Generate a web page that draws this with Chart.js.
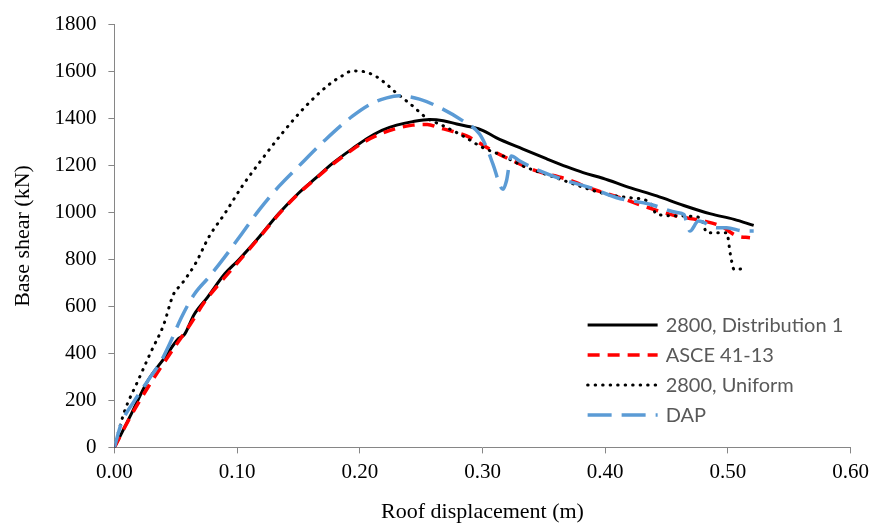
<!DOCTYPE html>
<html>
<head>
<meta charset="utf-8">
<script src="https://cdn.jsdelivr.net/npm/chart.js@4/dist/chart.umd.min.js"></script>
<style>
  html, body { margin: 0; padding: 0; background: #fff; }
  #wrap { width: 875px; height: 525px; }
</style>
</head>
<body>
<div id="wrap"><canvas id="chart" width="875" height="525"></canvas></div>
<script>
// Pushover curves: roof displacement (m) vs base shear (kN)
const dist1X = [0, 0.014, 0.027, 0.041, 0.052, 0.057, 0.065, 0.076, 0.090, 0.101, 0.118, 0.134, 0.150, 0.164, 0.178, 0.194, 0.205, 0.218, 0.230, 0.243, 0.257, 0.268, 0.279, 0.290, 0.300, 0.311, 0.333, 0.352, 0.369, 0.382, 0.398, 0.420, 0.442, 0.464, 0.486, 0.505, 0.521];
const dist1Y = [0, 145, 282, 382, 462, 480, 566, 640, 739, 797, 896, 996, 1082, 1146, 1210, 1272, 1312, 1350, 1372, 1387, 1396, 1391, 1377, 1365, 1350, 1319, 1270, 1229, 1194, 1170, 1146, 1106, 1071, 1030, 994, 971, 945];

const asceX = [0, 0.011, 0.027, 0.049, 0.060, 0.074, 0.085, 0.101, 0.118, 0.134, 0.150, 0.164, 0.178, 0.194, 0.205, 0.218, 0.230, 0.243, 0.255, 0.265, 0.276, 0.287, 0.3085, 0.3276, 0.344, 0.3685, 0.390, 0.412, 0.431, 0.458, 0.480, 0.494, 0.5075, 0.518];
const asceY = [0, 111, 253, 427, 509, 623, 694, 790, 893, 993, 1080, 1144, 1206, 1268, 1305, 1337, 1358, 1372, 1375, 1360, 1345, 1326, 1262, 1213, 1177, 1142, 1099, 1063, 1028, 985, 964, 943, 900, 893];

const uniformX = [0, 0.008, 0.019, 0.030, 0.040, 0.048, 0.055, 0.066, 0.077, 0.090, 0.104, 0.120, 0.137, 0.156, 0.175, 0.185, 0.194, 0.203, 0.213, 0.222, 0.2295, 0.243, 0.254, 0.2676, 0.284, 0.300, 0.3167, 0.333, 0.3576, 0.401, 0.420, 0.4366, 0.442, 0.464, 0.4775, 0.483, 0.499, 0.502, 0.505, 0.516];
const uniformY = [0, 150, 281, 409, 520, 650, 697, 782, 896, 996, 1111, 1225, 1339, 1453, 1545, 1580, 1603, 1600, 1580, 1545, 1510, 1454, 1404, 1370, 1326, 1277, 1241, 1198, 1152, 1078, 1063, 1042, 992, 985, 978, 914, 914, 822, 758, 762];

const dapX = [0, 0.0055, 0.0164, 0.027, 0.038, 0.046, 0.0545, 0.065, 0.077, 0.090, 0.104, 0.118, 0.134, 0.150, 0.172, 0.194, 0.210, 0.222, 0.232, 0.2486, 0.265, 0.284, 0.2976, 0.3045, 0.3085, 0.3167, 0.3195, 0.3235, 0.330, 0.3467, 0.3685, 0.3876, 0.4094, 0.4366, 0.4585, 0.464, 0.469, 0.476, 0.491, 0.499, 0.513, 0.521];
const dapY = [0, 100, 199, 282, 367, 452, 552, 651, 725, 811, 911, 1011, 1111, 1196, 1310, 1410, 1465, 1488, 1497, 1483, 1447, 1390, 1334, 1262, 1206, 1099, 1134, 1241, 1220, 1177, 1135, 1106, 1063, 1035, 1000, 992, 921, 964, 935, 935, 921, 921];

const seriesNames = ['2800, Distribution 1', 'ASCE 41-13', '2800, Uniform', 'DAP'];
const xTicks = [0, 0.1, 0.2, 0.3, 0.4, 0.5, 0.6];
const yTicks = [0, 200, 400, 600, 800, 1000, 1200, 1400, 1600, 1800];

const pts = (xs, ys) => xs.map((x, i) => ({ x, y: ys[i] }));

// legend drawn inside the plot, bottom right
const insideLegend = {
  id: 'insideLegend',
  afterDraw(chart) {
    const ctx = chart.ctx;
    const area = chart.chartArea;
    const x0 = area.right - 263;
    let y = 325;
    chart.data.datasets.forEach(ds => {
      ctx.save();
      ctx.strokeStyle = ds.borderColor;
      ctx.lineWidth = ds.borderWidth;
      ctx.lineCap = ds.borderCapStyle || 'butt';
      ctx.setLineDash(ds.borderDash || []);
      ctx.beginPath();
      ctx.moveTo(x0, y);
      ctx.lineTo(x0 + 70, y);
      ctx.stroke();
      ctx.restore();
      ctx.fillStyle = '#595959';
      ctx.font = '20px Lato';
      ctx.textBaseline = 'middle';
      ctx.fillText(ds.label, x0 + 78, y + 1);
      y += 30;
    });
  }
};

const axisColor = '#868686';
const tickFont = { family: 'Liberation Serif', size: 21 };

new Chart(document.getElementById('chart'), {
  type: 'scatter',
  data: {
    datasets: [
      { label: seriesNames[0], data: pts(dist1X, dist1Y), borderColor: '#000000', borderWidth: 3, order: 4 },
      { label: seriesNames[1], data: pts(asceX, asceY), borderColor: '#ff0000', borderWidth: 3.5, borderDash: [12, 8], order: 3 },
      { label: seriesNames[2], data: pts(uniformX, uniformY), borderColor: '#000000', borderWidth: 3, borderDash: [0.5, 7], borderCapStyle: 'round', order: 2 },
      { label: seriesNames[3], data: pts(dapX, dapY), borderColor: '#5b9bd5', borderWidth: 3.5, borderDash: [24, 10], order: 1 }
    ].map(d => Object.assign({ showLine: true, pointRadius: 0, cubicInterpolationMode: 'monotone', backgroundColor: d.borderColor }, d))
  },
  options: {
    responsive: false,
    animation: false,
    layout: { padding: { left: 10, right: 6, top: 14, bottom: 0 } },
    plugins: { legend: { display: false }, tooltip: { enabled: false } },
    scales: {
      x: {
        type: 'linear', min: 0, max: 0.6,
        afterBuildTicks: s => { s.ticks = xTicks.map(v => ({ value: v })); },
        ticks: { callback: v => v.toFixed(2), font: tickFont, color: '#000', padding: 6, maxRotation: 0 },
        grid: { drawOnChartArea: false, tickLength: 6, color: axisColor },
        border: { color: axisColor, width: 1 },
        title: { display: true, text: 'Roof displacement (m)', font: { family: 'Liberation Serif', size: 22 }, color: '#000', padding: { top: 8, bottom: 0 } }
      },
      y: {
        min: 0, max: 1800,
        afterBuildTicks: s => { s.ticks = yTicks.map(v => ({ value: v })); },
        ticks: { callback: v => String(v), font: tickFont, color: '#000', padding: 12 },
        grid: { drawOnChartArea: false, tickLength: 6, color: axisColor },
        border: { color: axisColor, width: 1 },
        title: { display: true, text: 'Base shear (kN)', font: { family: 'Liberation Serif', size: 22 }, color: '#000', padding: { top: 0, bottom: 6 } }
      }
    }
  },
  plugins: [insideLegend]
});
</script>
</body>
</html>
